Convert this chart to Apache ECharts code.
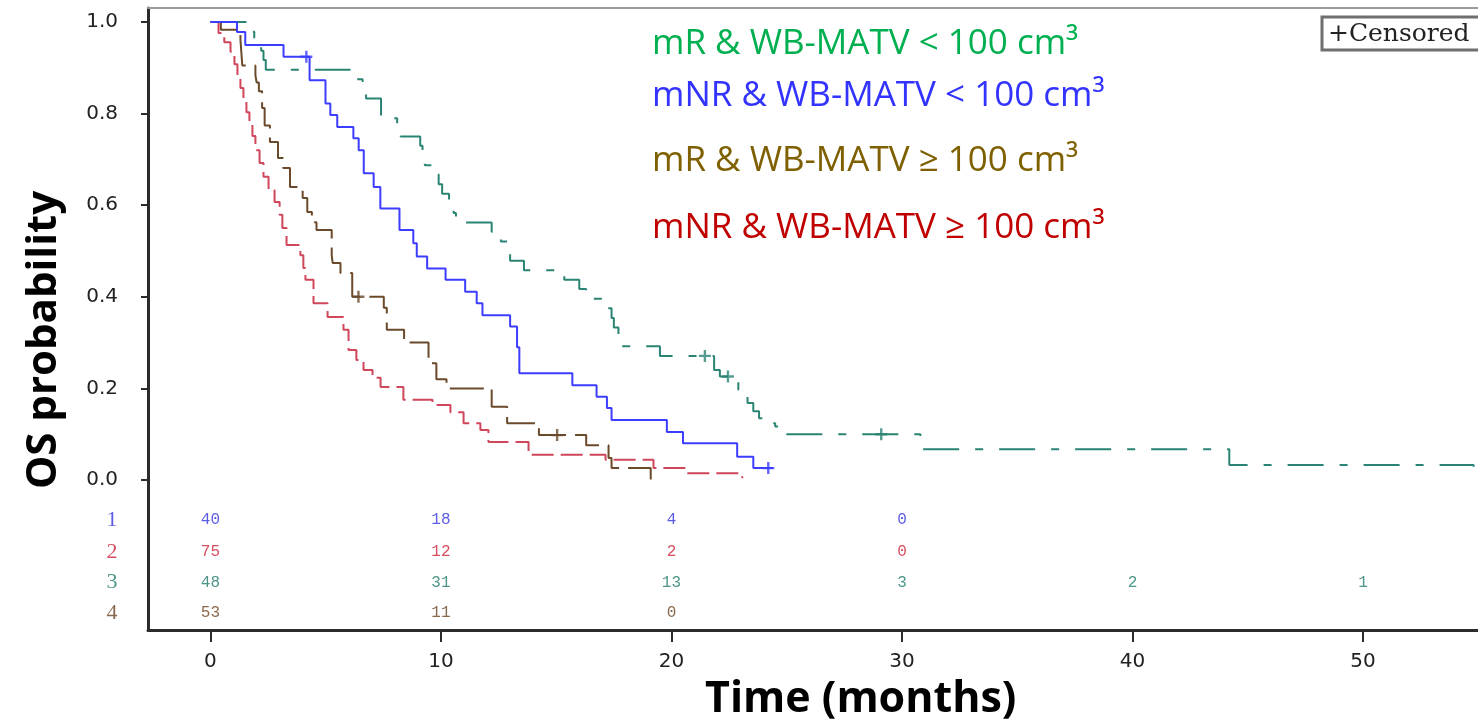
<!DOCTYPE html>
<html>
<head>
    <meta charset="utf-8">
    <title>OS Kaplan-Meier</title>
    <script type="text/javascript" src="https://cdn.jsdelivr.net/npm/echarts@6.0.0/dist/echarts.min.js"></script>
    <style type="text/css">
        html, body { margin: 0; padding: 0; background: #fff; }
        #main { width: 1478px; height: 722px; }
    </style>
</head>
<body>
<div id="main"></div>

<script type="text/javascript">
    // group 1: mNR & WB-MATV < 100 cm3 (blue)
    var g1Time = [0, 1.15, 1.51, 3.17, 4.3, 4.99, 5.2, 5.5, 6.2, 6.43, 6.65, 7.08, 7.37, 8.2, 8.8, 8.95, 9.4, 10.2, 11.05, 11.55, 11.8, 13.0, 13.3, 13.4, 15.7, 16.75, 17.2, 17.4, 19.8, 20.5, 22.85, 23.55, 24.4];
    var g1Surv = [1.0, 0.978, 0.95, 0.924, 0.873, 0.822, 0.797, 0.771, 0.746, 0.72, 0.67, 0.64, 0.593, 0.546, 0.517, 0.488, 0.462, 0.437, 0.411, 0.386, 0.36, 0.335, 0.29, 0.233, 0.207, 0.182, 0.157, 0.131, 0.105, 0.08, 0.051, 0.026, 0.026];
    var g1Cens = [[4.16, 0.924], [24.2, 0.026]];

    // group 2: mNR & WB-MATV >= 100 cm3 (red)
    var g2Time = [0, 0.35, 0.6, 0.87, 1.04, 1.17, 1.3, 1.43, 1.56, 1.69, 1.82, 1.95, 2.13, 2.3, 2.52, 2.78, 3.0, 3.12, 3.3, 3.9, 4.03, 4.12, 4.47, 5.08, 5.77, 5.99, 6.33, 6.64, 7.03, 7.38, 8.37, 9.63, 10.41, 10.98, 11.71, 12.06, 13.8, 17.14, 19.22, 20.65, 23.07];
    var g2Surv = [1.0, 0.976, 0.956, 0.935, 0.908, 0.882, 0.856, 0.83, 0.803, 0.777, 0.751, 0.72, 0.692, 0.662, 0.633, 0.607, 0.579, 0.55, 0.513, 0.491, 0.463, 0.437, 0.386, 0.356, 0.328, 0.284, 0.262, 0.24, 0.223, 0.203, 0.175, 0.164, 0.148, 0.124, 0.109, 0.083, 0.055, 0.044, 0.026, 0.015, 0.004];

    // group 3: mR & WB-MATV < 100 cm3 (teal)
    var g3Time = [0, 1.8, 1.9, 2.2, 2.3, 2.4, 6.05, 6.6, 6.75, 7.4, 8.1, 8.25, 9.1, 9.2, 9.3, 9.7, 9.9, 10.05, 10.35, 10.55, 10.65, 12.2, 12.6, 12.9, 13.0, 13.6, 15.35, 16.0, 16.3, 17.1, 17.4, 17.5, 17.7, 17.85, 19.5, 21.85, 22.1, 22.9, 23.0, 23.3, 23.55, 23.8, 24.0, 24.5, 24.9, 30.8, 44.2, 54.8];
    var g3Surv = [1.0, 0.979, 0.958, 0.9375, 0.917, 0.896, 0.875, 0.854, 0.833, 0.79, 0.77, 0.75, 0.73, 0.708, 0.6875, 0.667, 0.646, 0.625, 0.604, 0.583, 0.5625, 0.542, 0.521, 0.5, 0.479, 0.458, 0.4375, 0.417, 0.396, 0.375, 0.354, 0.333, 0.3125, 0.292, 0.271, 0.24, 0.226, 0.197, 0.183, 0.168, 0.15, 0.135, 0.124, 0.117, 0.10, 0.067, 0.033, 0];
    var g3Cens = [[21.45, 0.271], [22.45, 0.226], [29.1, 0.10]];

    // group 4: mR & WB-MATV >= 100 cm3 (brown)
    var g4Time = [0, 0.45, 1.3, 1.38, 1.95, 2.0, 2.1, 2.24, 2.35, 2.58, 2.93, 3.15, 3.45, 4.0, 4.2, 4.4, 4.6, 5.26, 5.3, 5.64, 6.15, 7.52, 7.65, 8.4, 9.46, 9.8, 10.24, 12.2, 12.87, 14.25, 16.3, 17.27, 17.4, 19.1];
    var g4Surv = [1.0, 0.983, 0.962, 0.905, 0.884, 0.868, 0.849, 0.812, 0.774, 0.738, 0.703, 0.681, 0.64, 0.616, 0.585, 0.563, 0.546, 0.491, 0.474, 0.452, 0.40, 0.376, 0.328, 0.30, 0.255, 0.22, 0.20, 0.16, 0.124, 0.098, 0.076, 0.048, 0.026, 0];
    var g4Cens = [[6.42, 0.40], [15.04, 0.098]];

    // number at risk
    var riskTimes = [0, 10, 20, 30, 40, 50];
    var risk1 = [40, 18, 4, 0];
    var risk2 = [75, 12, 2, 0];
    var risk3 = [48, 31, 13, 3, 2, 1];
    var risk4 = [53, 11, 0];

    // axis ticks
    var xTicks = [0, 10, 20, 30, 40, 50];
    var yTicks = [0, 0.2, 0.4, 0.6, 0.8, 1.0];

    var legendTexts = [
        'mR & WB-MATV < 100 cm³',
        'mNR & WB-MATV < 100 cm³',
        'mR & WB-MATV ≥ 100 cm³',
        'mNR & WB-MATV ≥ 100 cm³'
    ];
    var legendColors = ['#00b050', '#3333ff', '#7f6000', '#c00000'];
    var legendY = [44, 96, 161, 228];

    var cBlue = '#3d3dff', cRed = '#d0465a', cTeal = '#2a8474', cBrown = '#6b4a2c';
    var riskColors = ['#3333dd', '#cc2238', '#1f7a6a', '#6b4422'];
    // rows of the risk table, in survival units below the zero line
    var riskRowY = [-0.087, -0.157, -0.224, -0.290];

    function zip(t, s) {
        return t.map(function (v, i) { return [v, s[i]]; });
    }

    var xMin = -2.71, xMax = 54.99, yMin = -0.3275, yMax = 1.0306;
    var plus = 'path://M4,0h2v4h4v2h-4v4h-2v-4h-4v-2h4z';

    function riskSeries(values, row) {
        var data = values.map(function (v, i) { return [riskTimes[i], riskRowY[row], String(v)]; });
        // group number at the left of the table
        data.push([-4.27, riskRowY[row], '{r|' + (row + 1) + '}']);
        return {
            type: 'scatter',
            data: data,
            clip: false,
            symbolSize: 1,
            itemStyle: { color: 'rgba(0,0,0,0)' },
            label: {
                show: true,
                position: 'inside',
                formatter: function (p) { return p.value[2]; },
                color: riskColors[row],
                fontFamily: 'Liberation Mono',
                fontSize: 16,
                rich: {
                    r: { color: riskColors[row], fontFamily: 'Liberation Serif', fontSize: 22 }
                }
            },
            silent: true
        };
    }

    function lineSeries(t, s, color, type) {
        return {
            type: 'line',
            step: 'end',
            data: zip(t, s),
            showSymbol: false,
            lineStyle: { color: color, width: 2, type: type },
            silent: true
        };
    }

    function censSeries(d, color) {
        return {
            type: 'scatter',
            data: d,
            symbol: plus,
            symbolSize: 12,
            itemStyle: { color: color },
            silent: true,
            z: 6
        };
    }

    var myChart = echarts.init(document.getElementById('main'));

    var graphics = [];
    legendTexts.forEach(function (txt, i) {
        graphics.push({
            type: 'text', x: 652, y: legendY[i],
            style: { text: txt, fill: legendColors[i], font: '35px "Open Sans"', verticalAlign: 'middle' }
        });
    });
    graphics.push({
        type: 'rect', shape: { x: 1322, y: 17, width: 200, height: 33 },
        style: { fill: '#fff', stroke: '#6f6f6f', lineWidth: 3 }
    });
    graphics.push({
        type: 'text', x: 1328, y: 34,
        style: { text: '+Censored', fill: '#222', font: '25px "DejaVu Serif"', verticalAlign: 'middle' }
    });
    graphics.push({
        type: 'text', x: 44, y: 340, rotation: Math.PI / 2,
        style: { text: 'OS probability', fill: '#000', font: 'bold 42px "Open Sans"', align: 'center', verticalAlign: 'middle' }
    });
    graphics.push({
        type: 'text', x: 705, y: 700,
        style: { text: 'Time (months)', fill: '#000', font: 'bold 43px "Open Sans"', verticalAlign: 'middle' }
    });

    var tickFont = { fontFamily: 'DejaVu Sans', fontSize: 20, color: '#222' };

    var option = {
        animation: false,
        grid: { left: 148, right: 0, top: 8, bottom: 92 },
        xAxis: [{
            type: 'value', min: xMin, max: xMax, position: 'bottom',
            axisLine: { show: true, onZero: false, lineStyle: { color: '#2b2b2b', width: 3 } },
            axisTick: { show: true, customValues: xTicks, length: 12, lineStyle: { color: '#2b2b2b', width: 2 } },
            axisLabel: {
                customValues: xTicks, margin: 22,
                formatter: function (v) { return '{t|' + v + '}'; },
                rich: { t: tickFont }
            },
            splitLine: { show: false }
        }, {
            type: 'value', min: xMin, max: xMax, position: 'top',
            axisLine: { show: true, onZero: false, lineStyle: { color: '#9a9a9a', width: 2 } },
            axisTick: { show: false }, axisLabel: { show: false }, splitLine: { show: false }
        }],
        yAxis: [{
            type: 'value', min: yMin, max: yMax,
            axisLine: { show: true, onZero: false, lineStyle: { color: '#2b2b2b', width: 3 } },
            axisTick: { show: true, customValues: yTicks, length: 7, lineStyle: { color: '#2b2b2b', width: 2 } },
            axisLabel: {
                customValues: yTicks, margin: 30,
                formatter: function (v) { return '{t|' + v.toFixed(1) + '}'; },
                rich: { t: tickFont }
            },
            splitLine: { show: false }
        }],
        graphic: graphics,
        series: [
            lineSeries(g3Time, g3Surv, cTeal, [36, 16, 8, 16]),
            lineSeries(g4Time, g4Surv, cBrown, [34, 9]),
            lineSeries(g2Time, g2Surv, cRed, [22, 7]),
            lineSeries(g1Time, g1Surv, cBlue, 'solid'),
            censSeries(g1Cens, cBlue),
            censSeries(g3Cens, cTeal),
            censSeries(g4Cens, cBrown),
            riskSeries(risk1, 0),
            riskSeries(risk2, 1),
            riskSeries(risk3, 2),
            riskSeries(risk4, 3)
        ]
    };

    myChart.setOption(option);
</script>
</body>
</html>
